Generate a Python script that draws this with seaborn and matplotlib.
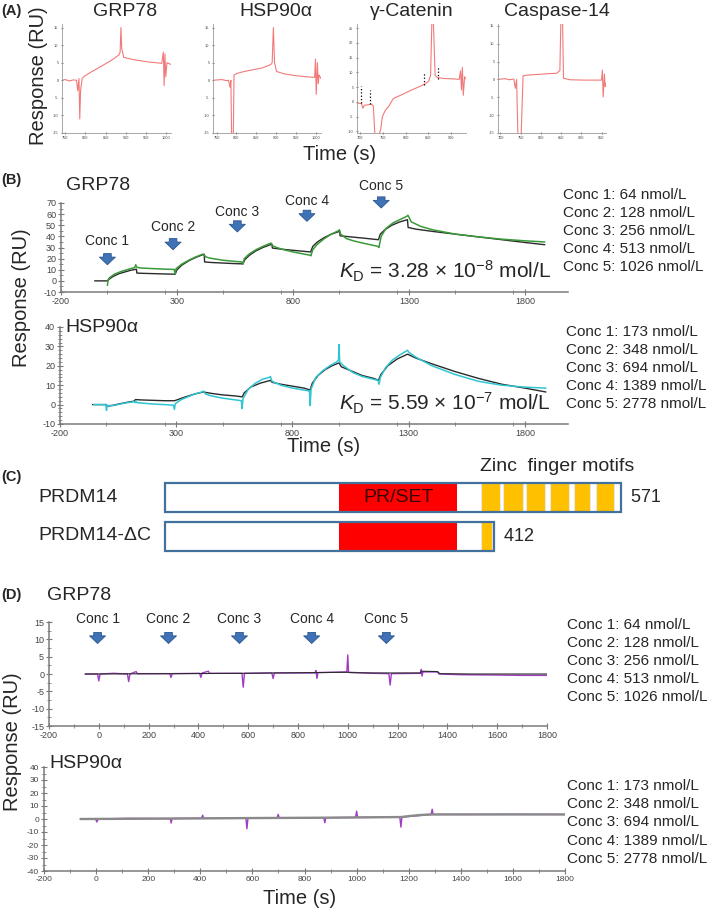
import matplotlib
matplotlib.use("Agg")
import matplotlib.pyplot as plt
import seaborn as sns
from matplotlib.ticker import MultipleLocator

sns.set_theme(style="white")
plt.rcParams["font.family"] = ["Liberation Sans", "DejaVu Sans"]
plt.rcParams["mathtext.fontset"] = "custom"
plt.rcParams["mathtext.rm"] = "Liberation Sans"
plt.rcParams["mathtext.it"] = "Liberation Sans:italic"
plt.rcParams["axes.unicode_minus"] = False

# ---------------- data ----------------
# Panel A: single-injection sensorgrams
a_titles = ["GRP78", "HSP90α", "γ-Catenin", "Caspase-14"]
a_grp_t = [742, 750, 760, 770, 778, 781, 784, 786, 788, 792, 798, 815, 832, 850, 866, 883, 886, 888, 890, 895, 910, 922, 940, 956, 975, 989, 993, 995, 997, 999, 1002, 1012]
a_grp_v = [0, 0.2, -0.2, 0.1, 0, -3, 0.5, -11, -3, 0.5, 1.2, 2.4, 3.5, 4.7, 5.8, 7.2, 8, 15, 9, 6.5, 6.1, 5.8, 5.5, 5.2, 5.0, 4.8, 8, -1.5, 7.5, 1, 5, 4.5]
a_hsp_t = [741, 763, 775, 780, 784, 786, 788, 792, 794, 803, 820, 842, 865, 887, 890, 893, 896, 901, 921, 949, 977, 997, 999, 1001, 1004, 1006, 1008, 1013]
a_hsp_v = [0, 0.2, -0.1, 0, -2, 0, -17, -17, 1.5, 2.0, 2.5, 3.0, 3.5, 4.5, 5, 15, 5, 2.5, 1.8, 1.3, 1.0, 0.8, 6, -4, 5, -1, 1.5, 0.5]
a_cat_t = [696, 703, 706, 709, 718, 725, 729, 733, 738, 745, 749, 755, 763, 773, 793, 813, 833, 843, 851, 855, 858, 861, 865, 869, 883, 903, 918, 921, 923, 925, 927, 930, 933]
a_cat_v = [-0.5, -0.6, -2.2, -1.2, -1.0, -0.8, -1.5, -13, -13, -9.5, -5, -3, -1.5, 1.1, 2.5, 4.0, 5.3, 6.1, 7, 9, 28, 28, 9, 8.3, 7.9, 7.8, 7.6, 10.5, 4, 11.7, 2.2, 8.5, 7.8]
a_cat_mark_t = [701, 721, 841, 871]
a_cat_mark_lo = [-0.5, -0.8, 5.8, 7.8]
a_cat_mark_hi = [5.5, 4.0, 10.0, 12.0]
a_csp_t = [694, 711, 722, 733, 737, 740, 744, 750, 756, 767, 794, 817, 839, 847, 850, 853, 856, 872, 906, 950, 952, 954, 957, 959, 961]
a_csp_v = [0, 0.2, -0.1, 0.1, -2.5, 0, -20, -20, 1.0, 1.2, 1.4, 1.6, 1.7, 2.5, 20, 20, 0.3, -0.1, -0.2, -0.2, 2.6, -4.9, 1.5, -2, -1.1]

# Panel B: multi-cycle kinetics (fit = black, observed = colour)
b_grp_fit_t = [-55, 0, 10, 25, 50, 75, 100, 125, 127, 150, 200, 250, 292, 300, 320, 350, 380, 417, 419, 450, 500, 550, 584, 592, 612, 640, 670, 709, 711, 750, 800, 850, 876, 885, 905, 935, 965, 1001, 1003, 1050, 1100, 1168, 1176, 1196, 1226, 1260, 1293, 1296, 1330, 1400, 1500, 1600, 1700, 1800, 1885]
b_grp_fit_v = [0, 0, 2, 4, 6.5, 8, 9.5, 10.5, 7, 6.8, 6.5, 6.2, 6, 10, 14, 18, 21, 24, 17, 16.5, 16, 15.5, 15.3, 19, 23, 27, 30, 33, 29.5, 28.5, 27.5, 26.5, 26, 31, 35, 39, 42, 44.5, 40.5, 39.5, 38.5, 37, 42, 46, 50, 53, 55, 48, 46.5, 44.5, 42, 39.5, 37, 34.5, 32.5]
b_grp_obs_t = [0, 3, 10, 30, 60, 100, 118, 122, 126, 130, 150, 200, 250, 288, 292, 296, 320, 350, 380, 410, 418, 425, 440, 470, 500, 550, 580, 584, 590, 610, 640, 670, 705, 712, 730, 760, 800, 850, 874, 877, 885, 905, 935, 965, 995, 1000, 1005, 1030, 1060, 1100, 1166, 1170, 1180, 1200, 1230, 1260, 1290, 1295, 1310, 1350, 1400, 1500, 1600, 1700, 1800, 1885]
b_grp_obs_v = [-4, 1, 3, 6, 8.5, 11, 12, 14.5, 12.5, 12, 11.5, 11, 10.5, 10.3, 6, 11, 15, 18.5, 21.5, 24, 23, 21.5, 20.5, 19.5, 18.5, 17.5, 17, 15, 20, 24, 28, 31, 34, 31.5, 30, 28, 26, 24, 23, 22.5, 28, 33, 38, 42, 45, 46, 42, 38, 36, 34, 31, 30, 40, 47, 52, 55, 58, 59, 53, 49, 46, 42, 39.5, 37.5, 36, 35]
b_hsp_fit_t = [-60, -2, 5, 30, 60, 90, 120, 124, 150, 200, 250, 292, 300, 340, 380, 417, 450, 500, 550, 584, 592, 620, 660, 705, 712, 750, 800, 850, 876, 885, 910, 940, 970, 1000, 1010, 1050, 1100, 1150, 1170, 1180, 1210, 1250, 1295, 1330, 1400, 1500, 1600, 1700, 1800, 1890]
b_hsp_fit_v = [0, 0, -0.8, -0.3, 0.5, 1.2, 1.8, 2.6, 2.4, 2.2, 2.0, 2.0, 2.3, 4, 5.5, 6.5, 5.8, 5, 4.5, 4, 6, 9, 11, 12.5, 11.5, 10.5, 9.5, 8.5, 7.5, 11, 15, 18, 20, 21.5, 19.5, 17.5, 15, 13.5, 12.5, 15.5, 20, 23.5, 26, 24, 21, 17, 13.5, 10.5, 8.5, 6.5]
b_hsp_obs_t = [-55, -3, 0, 3, 30, 60, 90, 120, 123, 126, 130, 150, 200, 250, 288, 292, 296, 320, 350, 380, 410, 418, 425, 450, 500, 550, 580, 583, 587, 610, 640, 670, 700, 705, 712, 750, 800, 850, 873, 876, 880, 900, 930, 960, 990, 998, 1000, 1003, 1020, 1060, 1100, 1150, 1168, 1172, 1178, 1200, 1230, 1260, 1295, 1300, 1330, 1400, 1500, 1600, 1700, 1800, 1890]
b_hsp_obs_v = [0, 0, -3, -0.5, -0.5, 0.3, 1, 1.5, 1.0, 2, 1, 0.8, 0.3, 0, -0.3, -2.5, 0.5, 2.5, 4, 5.5, 6.5, 7, 5.5, 4.5, 3.3, 2.5, 2, -2, 3, 8, 11, 13, 14, 14.5, 12, 10, 8.5, 7.5, 7, -0.5, 8, 14, 17.5, 20, 22, 23, 31, 22, 20, 16.5, 14.5, 13, 12.5, 10.5, 14, 19, 23, 25.5, 28, 27, 24.5, 20, 15.5, 12, 10, 9, 8.5]
b_grp_arrow_t = [0, 283, 560, 860, 1180]
b_grp_arrow_top = [24.5, 38, 54, 63.5, 75.5]
b_grp_label_y = [36, 48.5, 61.5, 72, 85]
b_kd = [r"$K_\mathrm{D}$ = 3.28 × 10$^{-8}$ mol/L", r"$K_\mathrm{D}$ = 5.59 × 10$^{-7}$ mol/L"]

conc_labels = ["Conc 1", "Conc 2", "Conc 3", "Conc 4", "Conc 5"]
grp_conc = [64, 128, 256, 513, 1026]
hsp_conc = [173, 348, 694, 1389, 2778]

# Panel C: domain structure (amino-acid positions)
c_names = ["PRDM14", "PRDM14-ΔC"]
c_lengths = [571, 412]
c_prset = (218, 366)
c_zf_start = [396, 423, 452, 482, 512, 540]
c_zf_end = [420, 448, 476, 506, 532, 562]

# Panel D: reference-surface (negative control) sensorgrams
d_grp_obs_t = [-55, -5, 0, 5, 60, 115, 120, 125, 150, 155, 285, 290, 295, 405, 410, 415, 440, 445, 575, 580, 585, 695, 700, 705, 868, 872, 876, 880, 996, 1000, 1003, 1100, 1165, 1170, 1175, 1292, 1295, 1298, 1302, 1360, 1366, 1450, 1600, 1700, 1800]
d_grp_obs_v = [0, 0, -2, 0, 0.2, 0, -2.2, 0, 0.7, 0.1, 0.1, -1, 0.1, 0.2, -1, 0.3, 0.8, 0.2, 0.2, -3.8, 0.2, 0.3, -1.3, 0.3, 0.3, 1.0, -1.3, 0.4, 0.6, 5.5, 0.5, 0.2, 0.1, -3.2, 0.1, 0.2, 1.3, -0.6, 0.6, 0.6, 0.0, -0.2, -0.3, -0.4, -0.4]
d_grp_fit_t = [-55, 300, 600, 700, 1000, 1010, 1100, 1290, 1298, 1360, 1370, 1500, 1800]
d_grp_fit_v = [0, 0.1, 0.2, 0.3, 0.5, 0.4, 0.3, 0.3, 0.8, 0.7, 0.1, 0, 0]
d_hsp_obs_t = [-55, -2, 3, 8, 120, 285, 288, 292, 405, 409, 413, 575, 579, 583, 695, 699, 703, 874, 878, 882, 996, 1000, 1004, 1166, 1170, 1174, 1286, 1290, 1294, 1400, 1600, 1800]
d_hsp_obs_v = [0, 0, -2.3, 0, 0.5, 0.4, -3.1, 0.5, 0.6, 2.9, 0.6, 0.7, -7.5, 0.7, 0.9, 3.6, 0.9, 1.0, -2.9, 1.0, 1.2, 6.0, 1.2, 1.4, -6.2, 1.5, 3.4, 7.5, 3.5, 3.5, 3.6, 3.5]
d_hsp_fit_t = [-60, 290, 580, 880, 1000, 1170, 1200, 1240, 1280, 1300, 1800]
d_hsp_fit_v = [0, 0.3, 0.7, 1.0, 1.2, 1.5, 2.2, 3.0, 3.5, 3.5, 3.5]
d_arrow_t = [-5, 280, 565, 855, 1155]

# ---------------- styling ----------------
W, H = 709, 915
RED = "#f27a7a"
GREEN = "#3a9a3a"
CYAN = "#2ec6d2"
FIT = "#2b2b2b"
PURPLE = "#a03cc4"
ARROW_FC = "#3f72b6"
ARROW_EC = "#2b568c"
SPINE = "#7a7a7a"
TICKC = "#444444"

fig = plt.figure(figsize=(W / 100, H / 100), dpi=100)


def axpx(l, t, r, b):
    return fig.add_axes([l / W, 1 - b / H, (r - l) / W, (b - t) / H])


def ftext(x, y, s, **kw):
    kw.setdefault("va", "center")
    fig.text(x / W, 1 - y / H, s, **kw)


def style_axes(ax, lab=6.5, maj=4, mnr=2.5):
    sns.despine(ax=ax)
    for s in ("left", "bottom"):
        ax.spines[s].set_color(SPINE)
        ax.spines[s].set_linewidth(1.1)
    ax.tick_params(which="major", direction="inout", length=maj, width=0.8,
                   color=SPINE, labelcolor=TICKC, labelsize=lab, pad=1.5,
                   bottom=True, left=True)
    ax.tick_params(which="minor", direction="inout", length=mnr, width=0.6,
                   color=SPINE, bottom=True, left=True)
    ax.set_xlabel("")
    ax.set_ylabel("")


def line(ax, t, v, color, lw):
    sns.lineplot(x=t, y=v, ax=ax, color=color, lw=lw, estimator=None,
                 sort=False, legend=False)


def conc_arrow(ax, x, ytop, ytip, label, ylab):
    ax.annotate("", xy=(x, ytip), xytext=(x, ytop), annotation_clip=False,
                arrowprops=dict(arrowstyle="simple,head_length=0.55,head_width=1.15,tail_width=0.55",
                                fc=ARROW_FC, ec=ARROW_EC, lw=0.6, shrinkA=0, shrinkB=0,
                                mutation_scale=10))
    ax.text(x, ylab, label, ha="center", va="center", fontsize=10, clip_on=False)


# ---------------- Panel A ----------------
ftext(1, 11, "(A)", fontsize=10.5, fontweight="bold", ha="left")
a_boxes = [(62, 171), (213, 321), (357, 466), (498, 606)]
a_centres = [125, 276, 412, 557]
a_series = [(a_grp_t, a_grp_v, (742, 1012), (-15, 16), 5, [750, 800, 850, 900, 950, 1000]),
            (a_hsp_t, a_hsp_v, (741, 1013), (-15, 16), 5, [750, 800, 850, 900, 950, 1000]),
            (a_cat_t, a_cat_v, (693, 933), (-10.6, 26.4), 5, [700, 750, 800, 850, 900]),
            (a_csp_t, a_csp_v, (694, 961), (-15, 15.5), 5, [700, 750, 800, 850, 900, 950])]
for (l, r), cx, title, (t, v, xl, yl, ys, xt) in zip(a_boxes, a_centres, a_titles, a_series):
    ax = axpx(l, 24, r, 133)
    line(ax, t, v, RED, 0.8)
    if title == "γ-Catenin":
        ax.vlines(a_cat_mark_t, a_cat_mark_lo, a_cat_mark_hi, colors="black",
                  linestyles=":", lw=0.9)
    ax.set_xlim(*xl)
    ax.set_ylim(*yl)
    ax.set_xticks(xt)
    ax.yaxis.set_major_locator(MultipleLocator(ys))
    style_axes(ax, lab=2.8, maj=2, mnr=1)
    for s in ("left", "bottom"):
        ax.spines[s].set_linewidth(0.6)
        ax.spines[s].set_color("#9a9a9a")
    ftext(cx, 11, title, fontsize=14, ha="center")
ftext(39, 76, "Response (RU)", fontsize=14.5, rotation=90, ha="center")
ftext(340, 154, "Time (s)", fontsize=14.5, ha="center")

# ---------------- Panel B ----------------
ftext(1, 180, "(B)", fontsize=10.5, fontweight="bold", ha="left")
ax = axpx(61, 203, 568, 292)
line(ax, b_grp_fit_t, b_grp_fit_v, FIT, 1.0)
line(ax, b_grp_obs_t, b_grp_obs_v, GREEN, 1.1)
ax.set_xlim(-200, 1985)
ax.set_ylim(-10, 70)
ax.set_xticks([-200, 300, 800, 1300, 1800])
ax.xaxis.set_minor_locator(MultipleLocator(250))
ax.yaxis.set_major_locator(MultipleLocator(10))
ax.yaxis.set_minor_locator(MultipleLocator(5))
style_axes(ax)
for x, yt, lab, yl in zip(b_grp_arrow_t, b_grp_arrow_top, conc_labels, b_grp_label_y):
    conc_arrow(ax, x, yt, yt - 10, lab, yl)
ax.text(0.757, 0.23, b_kd[0], transform=ax.transAxes, ha="center", va="center", fontsize=15)
ftext(66, 186, "GRP78", fontsize=14, ha="left")
for i, (lab, c) in enumerate(zip(conc_labels, grp_conc)):
    ftext(563, 195 + 18 * i, f"{lab}: {c} nmol/L", fontsize=11, ha="left")

ax = axpx(60, 327, 568, 424)
line(ax, b_hsp_fit_t, b_hsp_fit_v, FIT, 1.0)
line(ax, b_hsp_obs_t, b_hsp_obs_v, CYAN, 1.1)
ax.set_xlim(-200, 1985)
ax.set_ylim(-10, 40)
ax.set_xticks([-200, 300, 800, 1300, 1800])
ax.xaxis.set_minor_locator(MultipleLocator(250))
ax.yaxis.set_major_locator(MultipleLocator(10))
ax.yaxis.set_minor_locator(MultipleLocator(2))
style_axes(ax)
ax.text(0.757, 0.21, b_kd[1], transform=ax.transAxes, ha="center", va="center", fontsize=15)
ftext(65, 327, "HSP90α", fontsize=14, ha="left")
for i, (lab, c) in enumerate(zip(conc_labels, hsp_conc)):
    ftext(566, 332 + 18 * i, f"{lab}: {c} nmol/L", fontsize=11, ha="left")
ftext(22, 298, "Response (RU)", fontsize=14.5, rotation=90, ha="center")
ftext(324, 447, "Time (s)", fontsize=14.5, ha="center")

# ---------------- Panel C ----------------
ftext(1, 477, "(C)", fontsize=10.5, fontweight="bold", ha="left")
BAR_L, BAR_R = 165, 621
px_per_aa = (BAR_R - BAR_L) / c_lengths[0]
axc = axpx(0, 478, W, 556)
axc.set_xlim(-BAR_L / px_per_aa, (W - BAR_L) / px_per_aa)
axc.set_ylim(1.5, -0.5)
axc.axis("off")
for row, (name, length) in enumerate(zip(c_names, c_lengths)):
    axc.barh(row, length, left=0, height=0.76, color="white", edgecolor="none")
    axc.barh(row, c_prset[1] - c_prset[0], left=c_prset[0], height=0.76,
             color="#ff0000", edgecolor="none")
    for s, e in zip(c_zf_start, c_zf_end):
        if s < length:
            e2 = min(e, length - 2)
            axc.barh(row, e2 - s, left=s, height=0.76, color="#ffc000",
                     edgecolor="#e8e8e8", lw=0.8)
    axc.barh(row, length, left=0, height=0.76, color="none", edgecolor="#41719c", lw=1.6)
    axc.text(length, row, f"  {length}", ha="left", va="center", fontsize=13)
    ftext(38, 498 + 37 * row, name, fontsize=14, ha="left")
axc.text(sum(c_prset) / 2, 0, "PR/SET", ha="center", va="center", fontsize=14, color="#3a0505")
ftext(557, 467, "Zinc  finger motifs", fontsize=14, ha="center")

# ---------------- Panel D ----------------
ftext(1, 595, "(D)", fontsize=10.5, fontweight="bold", ha="left")
ax = axpx(49, 622, 547, 726)
line(ax, d_grp_obs_t, d_grp_obs_v, PURPLE, 1.0)
line(ax, d_grp_fit_t, d_grp_fit_v, FIT, 0.8)
ax.set_xlim(-200, 1800)
ax.set_ylim(-15, 15)
ax.xaxis.set_major_locator(MultipleLocator(200))
ax.xaxis.set_minor_locator(MultipleLocator(100))
ax.yaxis.set_major_locator(MultipleLocator(5))
ax.yaxis.set_minor_locator(MultipleLocator(2.5))
style_axes(ax)
for x, lab in zip(d_arrow_t, conc_labels):
    conc_arrow(ax, x, 12.0, 8.8, lab, 15.8)
ftext(47, 595, "GRP78", fontsize=14, ha="left")
for i, (lab, c) in enumerate(zip(conc_labels, grp_conc)):
    ftext(567, 625 + 18 * i, f"{lab}: {c} nmol/L", fontsize=11, ha="left")

ax = axpx(44, 767, 565, 871)
line(ax, d_hsp_obs_t, d_hsp_obs_v, PURPLE, 1.0)
line(ax, d_hsp_fit_t, d_hsp_fit_v, "#8a8a8a", 1.7)
ax.set_xlim(-200, 1800)
ax.set_ylim(-40, 40)
ax.xaxis.set_major_locator(MultipleLocator(200))
ax.xaxis.set_minor_locator(MultipleLocator(100))
ax.yaxis.set_major_locator(MultipleLocator(10))
ax.yaxis.set_minor_locator(MultipleLocator(5))
style_axes(ax, lab=6)
ftext(49, 763, "HSP90α", fontsize=14, ha="left")
for i, (lab, c) in enumerate(zip(conc_labels, hsp_conc)):
    ftext(567, 786 + 18.2 * i, f"{lab}: {c} nmol/L", fontsize=11, ha="left")
ftext(12, 742, "Response (RU)", fontsize=14.5, rotation=90, ha="center")
ftext(300, 898, "Time (s)", fontsize=14.5, ha="center")

fig.savefig("out.png", dpi=100, facecolor="white")
